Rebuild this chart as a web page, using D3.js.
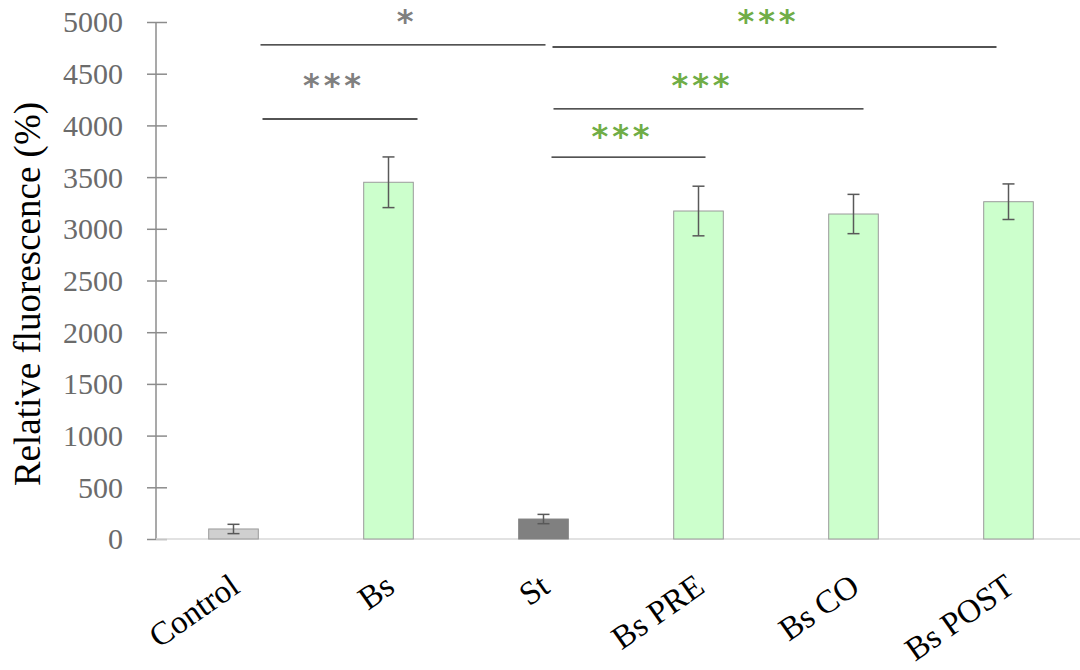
<!DOCTYPE html>
<html>
<head>
<meta charset="utf-8">
<style>
  body { margin: 0; background: #fff; }
  svg { font-family: 'Liberation Serif', serif; }
</style>
</head>
<body>
<svg width="1080" height="670"></svg>
<script src="https://d3js.org/d3.v7.min.js"></script>
<script>
  // data
  const categories = ["Control", "Bs", "St", "Bs PRE", "Bs CO", "Bs POST"];
  const values = [97, 3450, 193, 3172, 3143, 3262];
  const errors = [45, 245, 45, 240, 190, 172];
  const fills = ["#d0d0d0", "#ccffcc", "#808080", "#ccffcc", "#ccffcc", "#ccffcc"];
  const yTicks = [0, 500, 1000, 1500, 2000, 2500, 3000, 3500, 4000, 4500, 5000];

  // significance brackets
  const sigFrom = ["Control", "Control", "St", "St", "St"];
  const sigTo = ["St", "Bs", "Bs POST", "Bs CO", "Bs PRE"];
  const sigLevel = [4778, 4062, 4758, 4159, 3694];
  const sigLabel = ["*", "***", "***", "***", "***"];
  const sigColor = ["#808080", "#808080", "#70ad47", "#70ad47", "#70ad47"];

  const svg = d3.select("svg");
  const margin = { top: 22, left: 156, right: 0, bottom: 131 };
  const width = 1086 - margin.left;
  const height = 670 - margin.top - margin.bottom;

  const g = svg.append("g").attr("transform", `translate(${margin.left},${margin.top})`);

  const x = d3.scaleBand().domain(categories).range([0, width]).paddingInner(0.68).paddingOuter(0.34);
  const y = d3.scaleLinear().domain([0, 5000]).range([height, 0]);
  const cx = d => x(d) + x.bandwidth() / 2;

  // y axis
  const yAxis = g.append("g")
    .call(d3.axisLeft(y).tickValues(yTicks).tickFormat(d3.format("d")).tickSize(9));
  yAxis.select(".domain").attr("stroke", "#8c8c8c").attr("stroke-width", 1.5).attr("d", `M0,${height}V0`);
  yAxis.selectAll(".tick line").attr("stroke", "#8c8c8c").attr("stroke-width", 1.5).attr("x2", 11).attr("x1", -9);
  yAxis.selectAll(".tick text")
    .attr("fill", "#6b6b6b")
    .style("font-size", "30px")
    .style("font-family", "'Liberation Serif', serif")
    .attr("x", -33)
    .attr("dy", "0.33em");

  // x baseline
  g.append("line")
    .attr("x1", 0).attr("x2", width)
    .attr("y1", y(0)).attr("y2", y(0))
    .attr("stroke", "#d9d9d9").attr("stroke-width", 1.5);

  // bars
  g.selectAll("rect.bar")
    .data(categories)
    .join("rect")
    .attr("class", "bar")
    .attr("x", d => x(d))
    .attr("width", x.bandwidth())
    .attr("y", (d, i) => y(values[i]))
    .attr("height", (d, i) => y(0) - y(values[i]))
    .attr("fill", (d, i) => fills[i])
    .attr("stroke", (d, i) => i === 2 ? "#808080" : "#9a9a9a")
    .attr("stroke-width", 1);

  // error bars
  const eb = g.selectAll("g.err").data(categories).join("g").attr("class", "err");
  eb.append("line")
    .attr("x1", cx).attr("x2", cx)
    .attr("y1", (d, i) => y(values[i] + errors[i])).attr("y2", (d, i) => y(values[i] - errors[i]))
    .attr("stroke", "#595959").attr("stroke-width", 1.5);
  [1, -1].forEach(s => {
    eb.append("line")
      .attr("x1", d => cx(d) - 6).attr("x2", d => cx(d) + 6)
      .attr("y1", (d, i) => y(values[i] + s * errors[i])).attr("y2", (d, i) => y(values[i] + s * errors[i]))
      .attr("stroke", "#595959").attr("stroke-width", 1.5);
  });

  // x labels
  g.selectAll("text.xl")
    .data(categories)
    .join("text")
    .attr("class", "xl")
    .attr("transform", d => `translate(${cx(d) + 8},${height + 52}) rotate(-35)`)
    .attr("text-anchor", "end")
    .style("font-size", "33px")
    .attr("fill", "#000")
    .text(d => d);

  // y label
  svg.append("text")
    .attr("transform", `translate(40,294) rotate(-90)`)
    .attr("text-anchor", "middle")
    .style("font-size", "37px")
    .attr("fill", "#000")
    .text("Relative fluorescence (%)");

  // significance brackets (hand-placed ends in the original)
  const nudgeStart = [27, 29, 9, 10, 8];
  const nudgeEnd = [2, 29, -12, 10, 7];
  const starLift = [13, 23, 15, 13, 10];
  sigFrom.forEach((f, i) => {
    const x1 = cx(f) + nudgeStart[i];
    const x2 = cx(sigTo[i]) + nudgeEnd[i];
    g.append("line")
      .attr("x1", x1).attr("x2", x2)
      .attr("y1", y(sigLevel[i])).attr("y2", y(sigLevel[i]))
      .attr("stroke", "#1a1a1a").attr("stroke-width", 1.3);
    g.append("text")
      .attr("x", (x1 + x2) / 2 + (sigLabel[i] === "*" ? 4 : -6))
      .attr("y", y(sigLevel[i]) - starLift[i])
      .attr("text-anchor", "middle")
      .style("font-size", "32px")
      .style("font-weight", "bold")
      .style("font-family", "'DejaVu Sans', sans-serif")
      .style("letter-spacing", "4px")
      .attr("fill", sigColor[i])
      .text(sigLabel[i]);
  });
</script>
</body>
</html>
